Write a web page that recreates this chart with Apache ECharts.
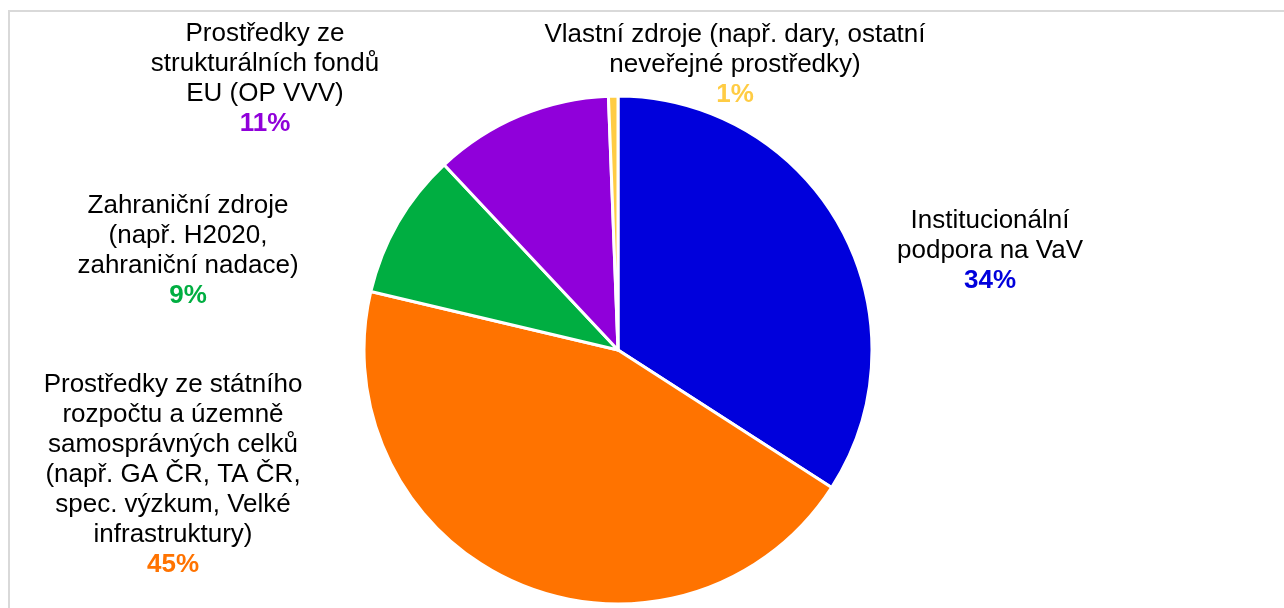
<!DOCTYPE html>
<html>
<head>
<meta charset="utf-8">
<script src="https://cdn.jsdelivr.net/npm/echarts@6/dist/echarts.min.js"></script>
<style>
  html, body { margin: 0; padding: 0; background: #fff; }
  #frame {
    position: absolute; left: 8px; top: 10px;
    width: 1400px; height: 700px;
    border-left: 2px solid #d9d9d9; border-top: 2px solid #d9d9d9;
  }
  #chart { position: absolute; left: 0; top: 0; width: 1284px; height: 608px; }
</style>
</head>
<body>
<div id="frame"></div>
<div id="chart"></div>
<script>
// zdroje financování
const categories = [
  "Institucionální\npodpora na VaV",
  "Prostředky ze státního\nrozpočtu a územně\nsamosprávných celků\n(např. GA ČR, TA ČR,\nspec. výzkum, Velké\ninfrastruktury)",
  "Zahraniční zdroje\n(např. H2020,\nzahraniční nadace)",
  "Prostředky ze\nstrukturálních fondů\nEU (OP VVV)",
  "Vlastní zdroje (např. dary, ostatní\nneveřejné prostředky)"
];
const values = [34.1, 44.6, 9.3, 11.4, 0.6];
const colors = ["#0000DC", "#FF7300", "#00AE41", "#9000DA", "#FFCC44"];

// středy popisků (px)
const labelPos = [[990, 251], [173, 475], [188, 251], [265, 79], [735, 65]];

const chart = echarts.init(document.getElementById("chart"));

const font = "Liberation Sans, Arial";
const option = {
  backgroundColor: "transparent",
  animation: false,
  series: [{
    type: "pie",
    center: [618, 350],
    radius: 254,
    startAngle: 90,
    clockwise: true,
    avoidLabelOverlap: false,
    itemStyle: { borderColor: "#fff", borderWidth: 3 },
    labelLine: { show: false },
    label: {
      show: true,
      position: "outside",
      formatter: (p) => `{n|${p.name}}\n{p${p.dataIndex}|${Math.round(p.percent)}%}`,
      rich: Object.assign(
        { n: { fontFamily: font, fontSize: 26, color: "#000", lineHeight: 30, align: "center" } },
        ...colors.map((c, i) => ({
          ["p" + i]: { fontFamily: font, fontSize: 26, fontWeight: "bold", color: c, lineHeight: 30, align: "center" }
        }))
      )
    },
    labelLayout: (params) => ({
      x: labelPos[params.dataIndex][0],
      y: labelPos[params.dataIndex][1],
      align: "center",
      verticalAlign: "middle"
    }),
    data: categories.map((name, i) => ({
      name,
      value: values[i],
      itemStyle: { color: colors[i] }
    }))
  }]
};

chart.setOption(option);
</script>
</body>
</html>
